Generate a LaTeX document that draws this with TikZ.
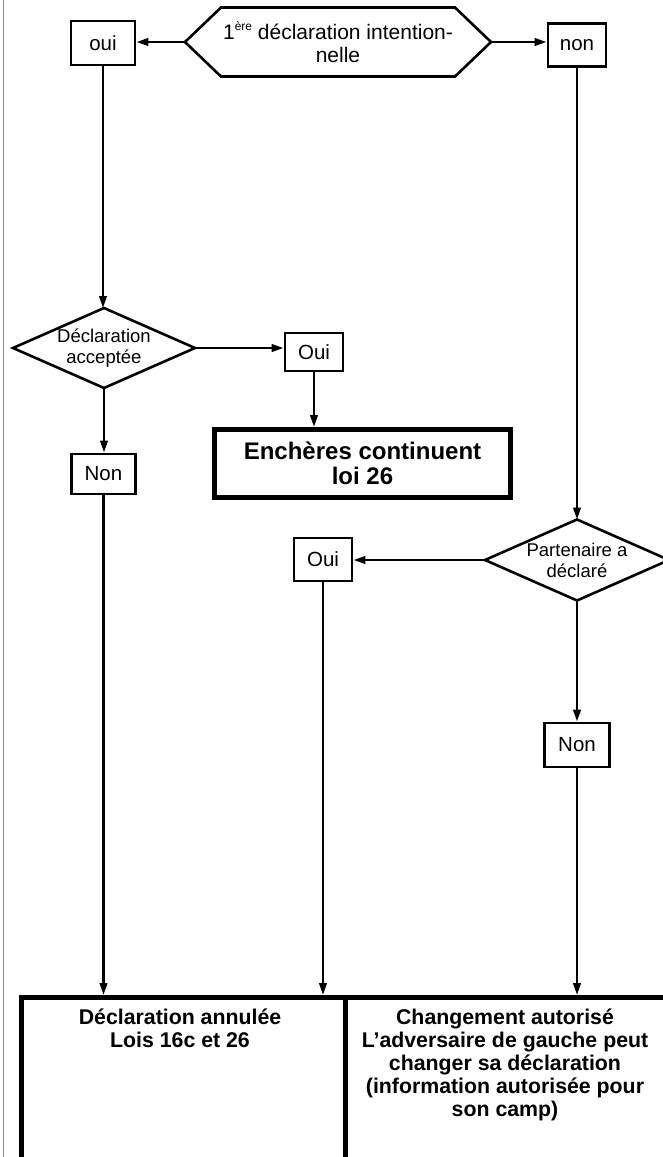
\documentclass[tikz,border=0pt]{standalone}
\usepackage{fontspec}
\setmainfont{Liberation Sans}
\usetikzlibrary{arrows.meta}

\begin{document}
\begin{tikzpicture}[x=10pt,y=10pt,
  box/.style={draw=black, line width=2.8pt, font=\fontsize{20.5}{23.5}\selectfont},
  bigbox/.style={draw=black, line width=5pt, align=center},
  cond/.style={outer sep=0pt, align=center, font=\fontsize{18.5}{21}\selectfont},
  rule/.style={align=center, font=\bfseries\fontsize{21.3}{23}\selectfont},
  arr/.style={line width=2.5pt, -{Triangle[length=12pt,width=7.5pt]}}]
\tikzstyle{every node}+=[inner sep=0pt]
\useasboundingbox (0,0) rectangle (66.3,-115.7);
\clip (0,0) rectangle (66.3,-115.7);
\draw [black!45, line width=1.3pt] (0.35,0) -- (0.35,-115.7);
% first row
\node [box, minimum width=64pt, minimum height=44pt] (oui) at (10.3,-4.3) {oui};
\node [cond, font=\fontsize{21}{23}\selectfont, minimum width=306pt, minimum height=69pt] (intent) at (33.8,-4.2) {1\raisebox{0.45em}{\fontsize{12}{12}\selectfont ère} déclaration intention-\\nelle};
\draw [black, line width=2.6pt] (intent.west) -- ([xshift=36pt]intent.north west) -- ([xshift=-36pt]intent.north east) -- (intent.east) -- ([xshift=-36pt]intent.south east) -- ([xshift=36pt]intent.south west) -- cycle;
\node [box, minimum width=58pt, minimum height=43pt] (non) at (57.7,-4.5) {non};
\draw [arr] (intent.west) -- (intent.west -| oui.east);
\draw [arr] (intent.east) -- (intent.east -| non.west);
% left branch
\node [cond, minimum width=182pt, minimum height=80pt] (accept) at (10.4,-34.8) {Déclaration\\acceptée};
\draw [black, line width=2.6pt] (accept.west) -- (accept.north) -- (accept.east) -- (accept.south) -- cycle;
\node [box, minimum width=58pt, minimum height=38pt] (oui2) at (31.4,-35.2) {Oui};
\node [bigbox, font=\bfseries\fontsize{24}{25}\selectfont, minimum width=296pt, minimum height=68pt] (enchere) at (36.25,-46.35) {Enchères continuent\\loi 26};
\node [box, minimum width=64pt, minimum height=40pt] (non1) at (10.35,-47.4) {Non};
\draw [arr] (oui) -- (oui.south |- accept.north);
\draw [arr] (accept.east) -- (accept.east -| oui2.west);
\draw [arr] (oui2.south) -- (oui2.south |- enchere.north);
\draw [arr] (accept.south) -- (accept.south |- non1.north);
% right branch
\node [cond, minimum width=184pt, minimum height=81pt] (partner) at (57.7,-56.0) {Partenaire a\\déclaré};
\draw [black, line width=2.6pt] (partner.west) -- (partner.north) -- (partner.east) -- (partner.south) -- cycle;
\node [box, minimum width=58pt, minimum height=43pt] (oui3) at (32.3,-55.95) {Oui};
\node [box, minimum width=65pt, minimum height=44pt] (non2) at (57.7,-74.5) {Non};
\draw [arr] (non.south) -- (non.south |- partner.north);
\draw [arr] (partner.west) -- (partner.west -| oui3.east);
\draw [arr] (partner.south) -- (partner.south |- non2.north);
% outcomes
\node [bigbox, anchor=north, minimum width=323.5pt, minimum height=300pt] (annul) at (18.325,-99.5) {};
\node [bigbox, anchor=north, minimum width=375pt, minimum height=300pt] (change) at (53.25,-99.5) {};
\node [rule, anchor=north] (annultxt) at (18.0,-100.9) {Déclaration annulée\\Lois 16c et 26};
\node [rule, anchor=north] (changetxt) at (50.5,-100.9) {Changement autorisé\\L’adversaire de gauche peut\\changer sa déclaration\\(information autorisée pour\\son camp)};
\draw [arr] (non1.south) -- (non1.south |- annul.north);
\draw [arr] (oui3.south) -- (oui3.south |- annul.north);
\draw [arr] (non2.south) -- (non2.south |- change.north);
\end{tikzpicture}
\end{document}
